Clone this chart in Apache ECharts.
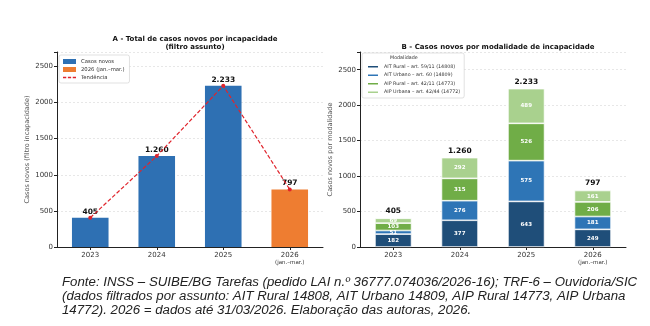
<!DOCTYPE html>
<html>
<head>
<meta charset="utf-8">
<script src="https://cdn.jsdelivr.net/npm/echarts@6/dist/echarts.min.js"></script>
<style>
  html, body { margin: 0; padding: 0; background: #fff; }
  #chart { width: 650px; height: 326px; }
</style>
</head>
<body>
<div id="chart"></div>
<script>
"use strict";

// categories
const years = ['2023', '2024', '2025', '2026'];

// panel A
const totals = [405, 1260, 2233, 797];

// panel B (stack, bottom to top)
const aitRural = [182, 377, 643, 249];
const aitUrbano = [51, 276, 575, 181];
const aipRural = [103, 315, 526, 206];
const aipUrbana = [69, 292, 489, 161];

const modalNames = [
    'AIT Rural – art. 59/11 (14808)',
    'AIT Urbano – art. 60 (14809)',
    'AIP Rural – art. 42/11 (14773)',
    'AIP Urbana – art. 42/44 (14772)'
];
const modalColors = ['#1f4e79', '#2e75b6', '#70ad47', '#a9d18e'];

const fmt = v => String(v).replace(/\B(?=(\d{3})+(?!\d))/g, '.');

const font = 'DejaVu Sans';

const xLabel = {
    fontSize: 7, color: '#333', fontFamily: font, margin: 5, interval: 0,
    formatter: v => v === '2026' ? '2026\n{s|(jan.–mar.)}' : v,
    rich: { s: { fontSize: 5.5, color: '#333', fontFamily: font, lineHeight: 8 } }
};
const yLabel = {
    fontSize: 7, color: '#333', fontFamily: font, margin: 4,
    formatter: v => v % 500 === 0 ? String(v) : ''
};
const axisLine = { show: true, lineStyle: { color: '#222', width: 1 } };
const split = { show: true, lineStyle: { type: [2, 2], color: '#d8d8d8', width: 0.6 } };
const yTick = { show: true, length: 3, lineStyle: { color: '#222' } };

const chart = echarts.init(document.getElementById('chart'));

const stackSeries = [aitRural, aitUrbano, aipRural, aipUrbana].map((arr, i) => ({
    name: modalNames[i],
    type: 'bar',
    stack: 'b',
    xAxisIndex: 1,
    yAxisIndex: 1,
    barWidth: '55%',
    data: arr,
    itemStyle: { color: modalColors[i], borderColor: '#fff', borderWidth: 0.7 },
    label: {
        show: true, position: 'inside', color: '#fff', fontWeight: 'bold',
        fontSize: 5.5, fontFamily: font
    }
}));

const option = {
    backgroundColor: '#fff',
    animation: false,
    title: [
        {
            text: 'A - Total de casos novos por incapacidade\n(filtro assunto)',
            left: 190, top: 30, textAlign: 'center',
            textStyle: { fontSize: 7, fontWeight: 'bold', fontFamily: font, color: '#111', lineHeight: 8 }
        },
        {
            text: 'B - Casos novos por modalidade de incapacidade',
            left: 493, top: 39, textAlign: 'center',
            textStyle: { fontSize: 7, fontWeight: 'bold', fontFamily: font, color: '#111' }
        }
    ],
    legend: [
        {
            left: 59, top: 55, orient: 'vertical',
            itemWidth: 13, itemHeight: 5, itemGap: 3,
            padding: [4, 5, 3, 4],
            backgroundColor: '#fff', borderColor: '#ccc', borderWidth: 0.6, borderRadius: 2,
            textStyle: { fontSize: 5.3, color: '#333', fontFamily: font },
            data: [
                { name: 'Casos novos', icon: 'rect' },
                { name: '2026 (jan.–mar.)', icon: 'rect' },
                { name: 'Tendência', icon: 'path://M0,0h4v2h-4z M6,0h4v2h-4z M12,0h4v2h-4z' }
            ]
        },
        {
            left: 362, top: 53, orient: 'vertical',
            itemWidth: 12, itemHeight: 3.5, itemGap: 3,
            padding: [11, 4, 3, 4],
            backgroundColor: '#fff', borderColor: '#ccc', borderWidth: 0.6, borderRadius: 2,
            textStyle: { fontSize: 4.8, color: '#333', fontFamily: font },
            data: modalNames.map(n => ({ name: n, icon: 'rect' }))
        }
    ],
    grid: [
        { left: 57, right: 327, top: 52, bottom: 79 },
        { left: 360, right: 24, top: 52, bottom: 79 }
    ],
    xAxis: [
        {
            gridIndex: 0, type: 'category', data: years,
            axisLine: axisLine, axisTick: { show: true, alignWithLabel: true, length: 3, lineStyle: { color: '#222' } },
            axisLabel: xLabel
        },
        {
            gridIndex: 1, type: 'category', data: years,
            axisLine: axisLine, axisTick: { show: true, alignWithLabel: true, length: 3, lineStyle: { color: '#222' } },
            axisLabel: xLabel
        }
    ],
    yAxis: [
        {
            gridIndex: 0, type: 'value', min: 0, max: 2700, interval: 500,
            axisLine: axisLine, axisTick: yTick,
            axisLabel: yLabel, splitLine: split,
            name: 'Casos novos (filtro incapacidade)', nameLocation: 'middle', nameGap: 24,
            nameTextStyle: { fontSize: 6.5, color: '#555', fontFamily: font }
        },
        {
            gridIndex: 1, type: 'value', min: 0, max: 2750, interval: 500,
            axisLine: axisLine, axisTick: yTick,
            axisLabel: yLabel, splitLine: split,
            name: 'Casos novos por modalidade', nameLocation: 'middle', nameGap: 24,
            nameTextStyle: { fontSize: 6.5, color: '#555', fontFamily: font }
        }
    ],
    series: [
        {
            name: 'Casos novos', type: 'bar', stack: 'a', barWidth: '55%',
            data: totals.map((v, i) => i < 3 ? v : null),
            itemStyle: { color: '#2e70b3' },
            label: {
                show: true, position: 'top', distance: 2, fontWeight: 'bold', fontSize: 7.5,
                color: '#111', fontFamily: font, formatter: p => fmt(p.value)
            }
        },
        {
            name: '2026 (jan.–mar.)', type: 'bar', stack: 'a', barWidth: '55%',
            data: totals.map((v, i) => i === 3 ? v : null),
            itemStyle: { color: '#ee7d31' },
            label: {
                show: true, position: 'top', distance: 2, fontWeight: 'bold', fontSize: 7.5,
                color: '#111', fontFamily: font, formatter: p => fmt(p.value)
            }
        },
        {
            name: 'Tendência', type: 'line', data: totals, z: 5,
            symbol: 'circle', symbolSize: 4,
            lineStyle: { color: '#e0242c', width: 1.2, type: [4, 2] },
            itemStyle: { color: '#e0242c' }
        },
        ...stackSeries,
        {
            name: 'total', type: 'bar', stack: 'b', xAxisIndex: 1, yAxisIndex: 1,
            barWidth: '55%', data: years.map(() => 0), silent: true,
            itemStyle: { color: 'transparent' },
            label: {
                show: true, position: 'top', distance: 3, fontWeight: 'bold', fontSize: 7.5,
                color: '#111', fontFamily: font, formatter: p => fmt(totals[p.dataIndex])
            }
        }
    ],
    graphic: [
        {
            type: 'text', left: 390, top: 55, z: 100,
            style: { text: 'Modalidade', fontSize: 4.8, fill: '#333', fontFamily: font }
        },
        {
            type: 'text', left: 62, top: 276,
            style: {
                text: 'Fonte: INSS – SUIBE/BG Tarefas (pedido LAI n.º 36777.074036/2026-16); TRF-6 – Ouvidoria/SIC',
                font: 'italic 13.25px "Liberation Sans"', fill: '#222'
            }
        },
        {
            type: 'text', left: 62, top: 290,
            style: {
                text: '(dados filtrados por assunto: AIT Rural 14808, AIT Urbano 14809, AIP Rural 14773, AIP Urbana',
                font: 'italic 13.25px "Liberation Sans"', fill: '#222'
            }
        },
        {
            type: 'text', left: 62, top: 304,
            style: {
                text: '14772). 2026 = dados até 31/03/2026. Elaboração das autoras, 2026.',
                font: 'italic 13.25px "Liberation Sans"', fill: '#222'
            }
        }
    ]
};

chart.setOption(option);
</script>
</body>
</html>
